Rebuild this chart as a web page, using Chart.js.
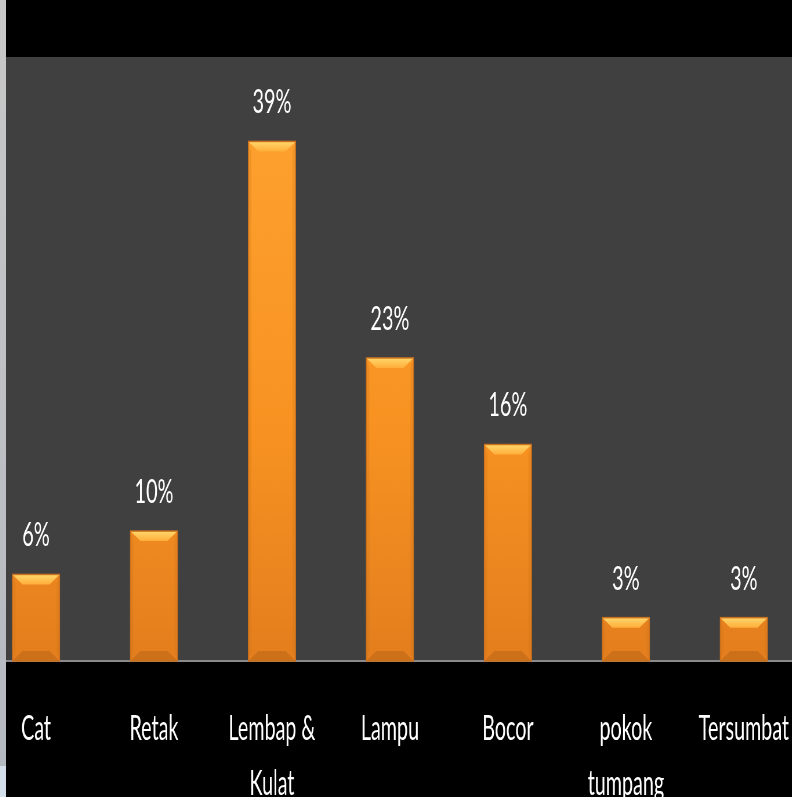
<!DOCTYPE html>
<html>
<head>
<meta charset="utf-8">
<script src="https://cdn.jsdelivr.net/npm/chart.js@4/dist/chart.umd.min.js"></script>
<style>
  html, body { margin: 0; padding: 0; background: #000; width: 792px; height: 797px; overflow: hidden; }
  #wrap { position: absolute; left: -23px; top: 0; width: 1441px; height: 797px; transform: scaleX(0.58); transform-origin: 0 0; }
  #strip { position: absolute; left: 0; top: 0; width: 6px; height: 797px;
    background: linear-gradient(to bottom, #c8c8c8 0px, #b5b9c0 766px, #d4dfeb 766px, #d4dfeb 797px); z-index: 2; }
</style>
</head>
<body>
<div id="wrap"><canvas id="c" width="1441" height="797"></canvas></div>
<div id="strip"></div>
<script>
const categories = ["Cat", "Retak", ["Lembap &", "Kulat"], "Lampu", "Bocor", ["pokok", "tumpang"], "Tersumbat"];
const percentValues = [6.45, 9.68, 38.71, 22.58, 16.13, 3.23, 3.23];
const valueLabels = ["6%", "10%", "39%", "23%", "16%", "3%", "3%"];
const yMax = 45;

const SX = 0.58; // horizontal squeeze applied by CSS

const plotBg = {
  id: 'plotBg',
  beforeDraw(chart) {
    const {ctx, chartArea: a} = chart;
    ctx.save();
    ctx.fillStyle = '#404040';
    ctx.fillRect(a.left, a.top, a.right - a.left, a.bottom - a.top);
    ctx.restore();
  }
};

const bevel = {
  id: 'bevel',
  afterDatasetsDraw(chart) {
    const {ctx} = chart;
    const meta = chart.getDatasetMeta(0);
    ctx.save();
    meta.data.forEach((bar, i) => {
      const p = bar.getProps(['x', 'y', 'base', 'width'], true);
      const l = p.x - p.width / 2, r = p.x + p.width / 2, t = p.y, b = p.base;
      const bv = 10, bx = bv / SX;
      // top bevel
      let g = ctx.createLinearGradient(0, t, 0, t + bv);
      g.addColorStop(0, '#ffd86c');
      g.addColorStop(1, '#ffae3a');
      ctx.fillStyle = g;
      ctx.beginPath();
      ctx.moveTo(l, t); ctx.lineTo(r, t); ctx.lineTo(r - bx, t + bv); ctx.lineTo(l + bx, t + bv); ctx.closePath();
      ctx.fill();
      // side bevels
      ctx.fillStyle = 'rgba(200,110,25,0.25)';
      ctx.beginPath();
      ctx.moveTo(l, t); ctx.lineTo(l + bx * 0.3, t + bv); ctx.lineTo(l + bx * 0.3, b - bv); ctx.lineTo(l, b); ctx.closePath();
      ctx.fill();
      ctx.beginPath();
      ctx.moveTo(r, t); ctx.lineTo(r - bx * 0.3, t + bv); ctx.lineTo(r - bx * 0.3, b - bv); ctx.lineTo(r, b); ctx.closePath();
      ctx.fill();
      // bottom bevel
      ctx.fillStyle = 'rgba(150,80,20,0.3)';
      ctx.beginPath();
      ctx.moveTo(l, b); ctx.lineTo(r, b); ctx.lineTo(r - bx, b - bv); ctx.lineTo(l + bx, b - bv); ctx.closePath();
      ctx.fill();
      // outline
      ctx.strokeStyle = '#c8701e';
      ctx.lineWidth = 1.5;
      ctx.strokeRect(l, t, r - l, b - t);
      // value label
      ctx.fillStyle = '#ffffff';
      ctx.font = '32px Lato';
      ctx.textAlign = 'center';
      ctx.textBaseline = 'alphabetic';
      ctx.save();
      ctx.translate(p.x, t - 28);
      ctx.scale(1.07, 1);
      ctx.fillText(valueLabels[i], 0, 0);
      ctx.restore();
    });
    ctx.restore();
  }
};

const ctx = document.getElementById('c').getContext('2d');
new Chart(ctx, {
  type: 'bar',
  data: {
    labels: categories,
    datasets: [{
      data: percentValues,
      backgroundColor: (c) => {
        const area = c.chart.chartArea;
        if (!area) return '#f7941d';
        const g = c.chart.ctx.createLinearGradient(0, area.top, 0, area.bottom);
        g.addColorStop(0, '#ffa432');
        g.addColorStop(0.6, '#f89322');
        g.addColorStop(1, '#e47e1e');
        return g;
      },
      borderWidth: 0,
      barPercentage: 0.4,
      categoryPercentage: 1.0
    }]
  },
  options: {
    responsive: false,
    animation: false,
    devicePixelRatio: 1,
    layout: { padding: { top: 57, left: 0, right: 0, bottom: 0 } },
    plugins: { legend: { display: false }, tooltip: { enabled: false }, title: { display: false } },
    scales: {
      x: {
        grid: { display: false, drawTicks: false },
        border: { display: true, color: '#8a8a8a', width: 2 },
        ticks: {
          color: '#ffffff',
          font: { family: 'Lato', size: 34, lineHeight: 1.6 },
          padding: 41,
          autoSkip: false,
          maxRotation: 0,
          minRotation: 0
        },
        afterFit: (s) => { s.height = 136; }
      },
      y: { display: false, min: 0, max: yMax }
    }
  },
  plugins: [plotBg, bevel]
});
</script>
</body>
</html>
